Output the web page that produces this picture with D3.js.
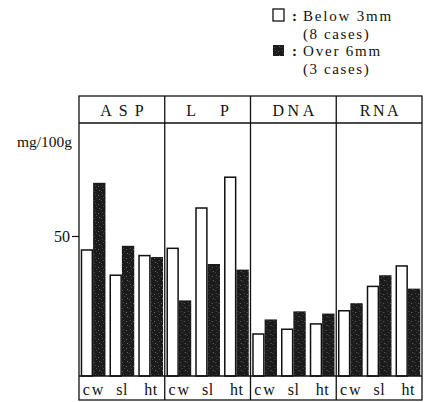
<!DOCTYPE html>
<html>
<head>
<meta charset="utf-8">
<script src="https://cdn.jsdelivr.net/npm/d3@7"></script>
<style>
  html, body { margin: 0; padding: 0; background: #fff; }
  svg { display: block; }
  text { font-family: "Liberation Serif", "DejaVu Serif", serif; fill: #111; }
</style>
</head>
<body>
<svg id="chart" width="428" height="402"></svg>
<script>
// Components and tissues
const panels = ["ASP", "LP", "DNA", "RNA"];
const tissues = ["cw", "sl", "ht"];

// mg/100g, one row per component, columns cw / sl / ht
const below3mm = [
  [45, 36, 43],
  [45.6, 60, 71],
  [15, 16.7, 18.6],
  [23.3, 32, 39.3]
];
const over6mm = [
  [69, 46.5, 42.5],
  [27, 40, 38],
  [20.2, 23.1, 22.3],
  [26, 36, 31.2]
];
const yTicks = [50];

const svg = d3.select("#chart");
const frameL = 79, frameR = 422, frameT = 96, headerB = 123, base = 376, frameB = 400;

const xPanel = d3.scaleBand().domain(panels).range([frameL, frameR]);
const xTissue = d3.scaleBand().domain(tissues).range([0, xPanel.bandwidth()])
  .paddingInner(0.14).paddingOuter(0.06);
const xSeries = d3.scaleBand().domain(["below", "over"]).range([0, xTissue.bandwidth()]);
const y = d3.scaleLinear().domain([0, 90]).range([base, base - 252]);

// Header letter spacing (typeset wide)
const headerSpacing = { ASP: 7, LP: 24, DNA: 3.5, RNA: 2.5 };

// Speckled fill for the dark bars
const defs = svg.append("defs");
const pat = defs.append("pattern").attr("id", "speckle").attr("patternUnits", "userSpaceOnUse")
  .attr("width", 7).attr("height", 9);
pat.append("rect").attr("width", 7).attr("height", 9).attr("fill", "#1b1b1b");
[[1, 2], [5, 6], [3, 8], [6, 1], [2, 5]].forEach(([cx, cy], i) => {
  pat.append("rect").attr("x", cx).attr("y", cy).attr("width", 1).attr("height", 1)
    .attr("fill", i % 2 ? "#6a6a6a" : "#4a4a4a");
});

// Bars
panels.forEach((p, pi) => {
  const g = svg.append("g").attr("transform", `translate(${xPanel(p)},0)`);
  tissues.forEach((t, ti) => {
    const x0 = xTissue(t);
    g.append("rect")
      .attr("x", x0 + xSeries("below") + 0.75)
      .attr("y", y(below3mm[pi][ti]))
      .attr("width", xSeries.bandwidth() - 1.5)
      .attr("height", base - y(below3mm[pi][ti]))
      .attr("fill", "#fff").attr("stroke", "#111").attr("stroke-width", 1.5);
    g.append("rect")
      .attr("x", x0 + xSeries("over"))
      .attr("y", y(over6mm[pi][ti]))
      .attr("width", xSeries.bandwidth())
      .attr("height", base - y(over6mm[pi][ti]))
      .attr("fill", "url(#speckle)");
    const ls = t === "cw" ? 2 : 0.5;
    g.append("text")
      .attr("x", x0 + xTissue.bandwidth() / 2 + ls / 2)
      .attr("y", 395)
      .attr("text-anchor", "middle")
      .attr("font-size", 16)
      .attr("letter-spacing", ls)
      .text(t);
  });
  const hs = headerSpacing[p];
  svg.append("text")
    .attr("x", xPanel(p) + xPanel.bandwidth() / 2 + hs / 2)
    .attr("y", 116)
    .attr("text-anchor", "middle")
    .attr("font-size", 16)
    .attr("letter-spacing", hs)
    .text(p);
});

// Grid frame
const frame = svg.append("g").attr("stroke", "#111").attr("fill", "none");
frame.append("rect").attr("x", frameL).attr("y", frameT).attr("width", frameR - frameL).attr("height", frameB - frameT)
  .attr("stroke-width", 1.3);
[headerB, base].forEach(yy => {
  frame.append("line").attr("x1", frameL).attr("x2", frameR).attr("y1", yy).attr("y2", yy).attr("stroke-width", 1.3);
});
panels.slice(1).forEach(p => {
  frame.append("line").attr("x1", xPanel(p)).attr("x2", xPanel(p)).attr("y1", frameT).attr("y2", frameB)
    .attr("stroke-width", 1.3);
});

// Y axis tick
const yAxis = svg.append("g").attr("transform", `translate(${frameL},0)`)
  .call(d3.axisLeft(y).tickValues(yTicks).tickSize(7).tickPadding(2));
yAxis.select(".domain").remove();
yAxis.selectAll("line").attr("stroke", "#111").attr("stroke-width", 1.2);
yAxis.selectAll("text").attr("font-size", 16).attr("font-family", "Liberation Serif, serif").attr("fill", "#111");

svg.append("text").attr("x", 72).attr("y", 147).attr("text-anchor", "end")
  .attr("font-size", 15.5).text("mg/100g");

// Legend
const legend = svg.append("g");
legend.append("rect").attr("x", 273).attr("y", 9).attr("width", 11).attr("height", 12)
  .attr("fill", "#fff").attr("stroke", "#111").attr("stroke-width", 1.3);
legend.append("rect").attr("x", 273).attr("y", 45).attr("width", 11).attr("height", 11)
  .attr("fill", "url(#speckle)");
const legendLines = [
  [292, 21, ":", 0],
  [303, 21, "Below 3mm", 1.8],
  [303, 39, "(8 cases)", 1.6],
  [292, 56, ":", 0],
  [303, 56, "Over 6mm", 1.8],
  [303, 74, "(3 cases)", 1.6]
];
legendLines.forEach(([lx, ly, s, sp]) => {
  legend.append("text").attr("x", lx).attr("y", ly).attr("font-size", 15)
    .attr("font-weight", s === ":" ? "bold" : "normal")
    .attr("letter-spacing", sp).text(s);
});
</script>
</body>
</html>
